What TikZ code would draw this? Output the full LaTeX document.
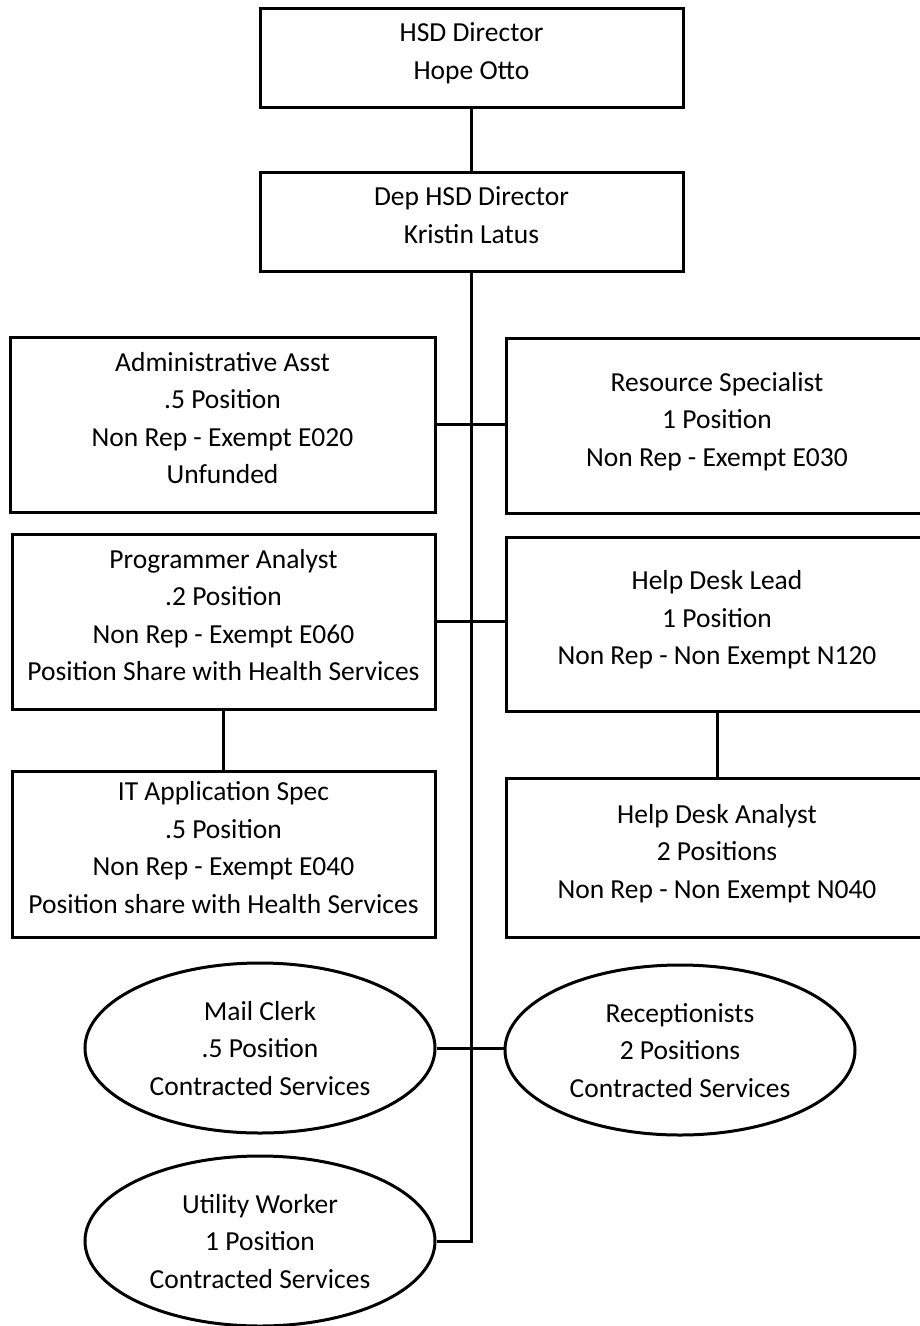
\documentclass[tikz,border=0pt]{standalone}
\usepackage{fontspec}
\setmainfont{Carlito}
\usetikzlibrary{shapes.geometric}

\begin{document}
\begin{tikzpicture}[x=1pt,y=-1pt,
  line width=3pt,
  every node/.style={font=\fontsize{27.5}{37.5}\selectfont, align=center, inner sep=0pt},
  post/.style={draw, rectangle, line width=3pt, text depth=13pt},
  contract/.style={draw, ellipse, line width=3pt, minimum width=350pt, minimum height=170pt, text depth=0pt},
  link/.style={draw, line width=3pt}
]
\useasboundingbox (0,0) rectangle (920,1326);
\clip (0,0) rectangle (920,1326);

% top of the chain
\node[post, minimum width=423pt, minimum height=99pt] (dir) at (471.5,57.5)
  {HSD Director\\Hope Otto};
\node[post, minimum width=423pt, minimum height=99pt] (dep) at (471.5,221.5)
  {Dep HSD Director\\Kristin Latus};

% left column
\node[post, minimum width=425pt, minimum height=175pt] (admin) at (222.5,424.5)
  {Administrative Asst\\.5 Position\\Non Rep - Exempt E020\\Unfunded};
\node[post, minimum width=423pt, minimum height=175pt] (prog) at (223.5,621.5)
  {Programmer Analyst\\.2 Position\\Non Rep - Exempt E060\\Position Share with Health Services};
\node[post, minimum width=423pt, minimum height=166pt] (it) at (223.5,854)
  {IT Application Spec\\.5 Position\\Non Rep - Exempt E040\\Position share with Health Services};

% right column
\node[post, minimum width=422pt, minimum height=175pt] (res) at (717,425.5)
  {Resource Specialist\\1 Position\\Non Rep - Exempt E030};
\node[post, minimum width=422pt, minimum height=174pt] (hdl) at (717,624)
  {Help Desk Lead\\1 Position\\Non Rep - Non Exempt N120};
\node[post, minimum width=422pt, minimum height=159pt] (hda) at (717,857.5)
  {Help Desk Analyst\\2 Positions\\Non Rep - Non Exempt N040};

% contracted services
\node[contract] (mail) at (260,1048)
  {Mail Clerk\\.5 Position\\Contracted Services};
\node[contract] (recep) at (680,1050)
  {Receptionists\\2 Positions\\Contracted Services};
\node[contract] (util) at (260,1241)
  {Utility Worker\\1 Position\\Contracted Services};

% connectors
\draw[link] (dir.south) -- (dep.north);
\draw[link] (dep.south) |- (util.east);
\draw[link] (admin.east) -- (res.west |- admin.east);
\draw[link] (prog.east) -- (hdl.west |- prog.east);
\draw[link] (prog.south) -- (it.north);
\draw[link] (hdl.south) -- (hda.north);
\draw[link] (mail.east) -- (recep.west |- mail.east);
\end{tikzpicture}
\end{document}
